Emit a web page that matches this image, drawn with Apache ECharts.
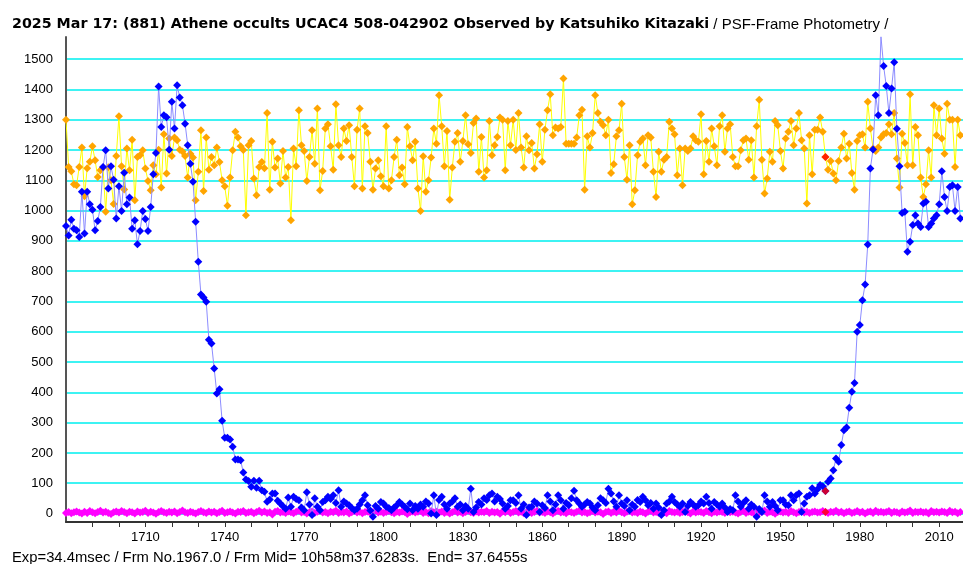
<!DOCTYPE html>
<html><head><meta charset="utf-8">
<script src="https://cdn.jsdelivr.net/npm/echarts@6/dist/echarts.min.js"></script>
<style>html,body{margin:0;padding:0;background:#fff}#c{width:963px;height:564px}</style>
</head><body><div id="c"></div>
<script>
const firstFrame = 1680;
const markFrame = 1967;
const xTickLabels = [1710,1740,1770,1800,1830,1860,1890,1920,1950,1980,2010];
const yTickLabels = [0,100,200,300,400,500,600,700,800,900,1000,1100,1200,1300,1400,1500];

const target = [
949,918,970,940,935,913,1062,924,1062,1021,
1003,935,966,1012,1144,1199,1073,1146,1102,974,
1080,999,1125,1021,1043,940,968,889,933,999,
972,933,1012,1120,1190,1410,1276,1315,1308,1201,
1359,1271,1414,1373,1348,1287,1216,1155,1095,963,
831,723,713,699,574,561,479,396,410,306,
250,250,244,220,178,178,176,135,112,107,
88,108,85,108,77,72,39,46,66,66,
42,33,24,16,53,
22,55,48,44,20,11,70,30,-5,50,
22,11,38,44,55,48,60,35,77,22,
40,33,27,18,11,16,30,44,60,27,
10,-11,25,16,38,33,22,18,11,20,
27,38,30,22,14,33,11,25,16,30,
22,40,33,0,60,-5,45,55,30,16,
33,40,50,22,30,11,25,16,82,5,
20,38,30,50,45,60,66,40,55,48,
33,16,25,44,44,35,60,16,30,-5,
20,22,40,33,5,27,18,60,40,11,
30,60,44,16,35,27,50,75,44,33,
22,30,38,33,20,11,27,50,44,35,
82,66,40,22,60,33,25,44,11,30,
22,45,38,55,44,27,35,16,33,20,
-5,11,33,40,55,38,30,22,33,5,
25,38,30,22,27,40,33,55,35,16,
38,30,22,33,20,5,15,11,60,40,
22,35,44,16,30,22,-11,15,5,60,
40,22,38,25,11,44,44,30,27,60,
44,60,66,5,33,55,60,83,66,80,
94,90,74,105,116,143,182,171,226,275,
284,349,402,431,600,622,704,756,888,1139,
1202,1381,1315,1574,1477,1411,1322,1403,1490,1270,
1146,992,996,864,897,952,985,957,946,1023,
1029,946,957,974,985,1021,1130,1045,999,1078,
1084,999,1078,974
];

const comparison = [
1300,1144,1130,1087,1084,1144,1208,1047,1140,1161,
1212,1166,1111,1133,1142,996,1143,1100,1022,1180,
1311,1146,1070,1205,1133,1234,1034,1177,1183,1199,
1139,1098,1067,1150,1120,1201,1076,1252,1122,1238,
1180,1241,1232,1201,1195,1180,1109,1188,1175,1034,
1128,1265,1065,1241,1135,1177,1150,1208,1160,1100,
1080,1016,1109,1199,1260,1241,1212,1200,985,1216,
1230,1106,1051,1144,1160,1140,1322,1069,1227,1142,
1172,1089,1197,1109,1144,
968,1205,1146,1331,1216,1197,1098,1177,1265,1155,
1337,1067,1131,1271,1285,1212,1135,1351,1216,1177,
1271,1230,1282,1177,1080,1267,1337,1073,1278,1256,
1161,1069,1139,1166,1113,1080,1278,1073,1100,1177,
1234,1117,1142,1087,1276,1212,1166,1227,1073,999,
1179,1062,1100,1175,1271,1221,1381,1278,1146,1263,
1036,1142,1227,1256,1161,1230,1315,1219,1190,1289,
1304,1128,1243,1109,1133,1296,1183,1216,1243,1307,
1300,1133,1296,1216,
1300,1200,1322,1208,1142,1245,1199,1223,1139,1186,
1285,1161,1267,1331,1384,1249,1274,1271,1276,1436,
1221,1221,1221,1221,1241,1315,1333,1069,1245,1208,
1256,1381,1322,1293,1282,1249,1300,1124,1153,1245,
1265,1353,1177,1102,1216,1021,1067,1183,1227,1238,
1150,1249,1241,1128,1045,1194,1128,1168,1177,1293,
1271,1252,1117,1205,1084,1205,1197,1205,1245,1232,
1227,1318,1120,1230,1161,1271,1212,1150,1278,1315,
1194,1271,1285,1177,1146,
1146,1199,1232,1238,1168,1232,1109,1278,1366,1168,
1056,1106,1194,1161,1296,1282,1197,1139,1238,1260,
1296,1216,1271,1322,1232,1205,1023,1249,1120,1267,
1267,1307,1260,1177,1135,1164,1122,1100,1164,1208,
1254,1172,1221,1124,1069,1230,1249,1252,1208,1359,
1271,1205,1197,1208,1241,1252,1256,1285,1252,1322,
1172,1076,1254,1223,1150,1384,1150,1276,1249,1109,
1045,1087,1199,1109,1348,1249,1337,1238,1188,1353,
1300,1300,1144,1300,1249
];

const sky = [
2,5,1,4,7,3,0,6,2,8,
4,1,5,9,3,6,2,-2,4,7,
3,8,5,1,6,4,0,7,3,5,
9,2,6,3,-1,5,8,4,2,6,
3,7,1,5,10,4,2,6,3,0,
5,8,4,2,7,3,6,1,5,9,
2,4,7,3,0,6,5,8,2,4,
6,1,5,9,3,7,2,4,-3,6,
8,3,5,2,7,4,1,6,9,3,
5,0,4,7,2,6,8,3,5,1,
6,4,9,2,5,3,7,0,4,8,
3,6,1,5,7,2,4,10,3,6,
2,5,8,4,1,6,3,7,5,-2,
4,7,3,6,9,2,5,1,8,4,
6,3,7,2,5,0,4,8,3,6,
1,5,9,4,2,7,3,6,4,8,
2,6,3,5,-1,7,4,9,2,5,
8,3,6,1,4,7,2,5,9,3,
5,2,7,4,0,6,8,3,5,1,
7,4,2,6,9,3,5,1,4,8,
3,6,4,-2,5,7,2,6,3,9,
4,1,6,8,3,5,2,7,4,0,
6,9,3,5,2,7,4,1,8,5,
3,6,2,5,9,4,0,7,3,6,
5,2,8,4,1,6,3,7,5,2,
9,4,6,3,0,5,8,2,6,4,
1,7,3,5,10,2,6,4,-1,5,
7,3,6,2,8,4,1,5,9,3,
6,2,5,7,3,4,8,5,2,6,
4,9,3,6,1,5,7,2,4,8,
3,6,0,5,7,2,9,4,6,3,
5,8,2,6,4,1,7,3,5,10,
2,6,4,7,3,5,0,8,4,6,
3,7,5,2,9,4,6,1,5
];

const frames = target.map((_, i) => firstFrame + i);
const pairs = arr => frames.map((f, i) => [f, arr[i]]);
const mi = markFrame - firstFrame;
const marks = [[markFrame, comparison[mi]], [markFrame, target[mi]], [markFrame, sky[mi]]];

const FONT = '"Liberation Sans", Arial, sans-serif';
const chart = echarts.init(document.getElementById('c'), null, {renderer: 'canvas'});
chart.setOption({
  backgroundColor: '#ffffff',
  animation: false,
  title: [{
    left: 12, top: 17, padding: 0,
    text: '{b|2025 Mar 17: (881) Athene occults UCAC4 508-042902 Observed by Katsuhiko Kitazaki}{n| / PSF-Frame Photometry /}',
    textStyle: {
      fontWeight: 'normal',
      rich: {
        b: {fontFamily: '"DejaVu Sans"', fontWeight: 'bold', fontSize: 14.25, color: '#000'},
        n: {fontFamily: FONT, fontWeight: 'normal', fontSize: 15, color: '#000'}
      }
    }
  }, {
    left: 12, top: 550, padding: 0,
    text: 'Exp=34.4msec / Frm No.1967.0 / Frm Mid= 10h58m37.6283s.  End= 37.6455s',
    textStyle: {fontFamily: FONT, fontSize: 14.8, fontWeight: 'normal', color: '#000'}
  }],
  grid: {left: 66, right: 0, top: 37, bottom: 42, containLabel: false},
  xAxis: {
    type: 'value', min: firstFrame, max: 2019, interval: 10,
    axisLine: {show: true, onZero: false, lineStyle: {color: '#333', width: 2}},
    axisTick: {show: true, length: 5, lineStyle: {color: '#333', width: 1}},
    splitLine: {show: false},
    axisLabel: {
      showMinLabel: false, showMaxLabel: false, margin: 9,
      fontFamily: FONT, fontSize: 13, color: '#000',
      formatter: v => xTickLabels.includes(v) ? String(v) : ''
    }
  },
  yAxis: {
    type: 'value', min: -28, max: 1573, minInterval: 100, maxInterval: 100,
    axisLine: {show: true, lineStyle: {color: '#555', width: 2}},
    axisTick: {show: false},
    splitLine: {show: true, showMinLine: false, showMaxLine: false, lineStyle: {color: '#3ef3f3', width: 2}},
    axisLabel: {
      showMinLabel: false, showMaxLabel: false, margin: 13,
      fontFamily: FONT, fontSize: 13, color: '#000',
      formatter: v => yTickLabels.includes(v) ? String(v) : ''
    }
  },
  series: [
    {type: 'line', name: 'sky', data: pairs(sky), symbol: 'diamond', symbolSize: 8,
     lineStyle: {color: '#ff00ff', width: 1}, itemStyle: {color: '#ff00ff'}, z: 2},
    {type: 'line', name: 'comparison', data: pairs(comparison), symbol: 'diamond', symbolSize: 8,
     lineStyle: {color: '#ffff00', width: 1}, itemStyle: {color: '#ffa500'}, z: 3},
    {type: 'line', name: 'target', data: pairs(target), symbol: 'diamond', symbolSize: 8,
     lineStyle: {color: '#8c8cff', width: 1}, itemStyle: {color: '#0000ff'}, z: 4},
    {type: 'scatter', name: 'mark', data: marks, symbol: 'diamond', symbolSize: 8,
     itemStyle: {color: '#ff0000'}, z: 5}
  ]
});
</script></body></html>
